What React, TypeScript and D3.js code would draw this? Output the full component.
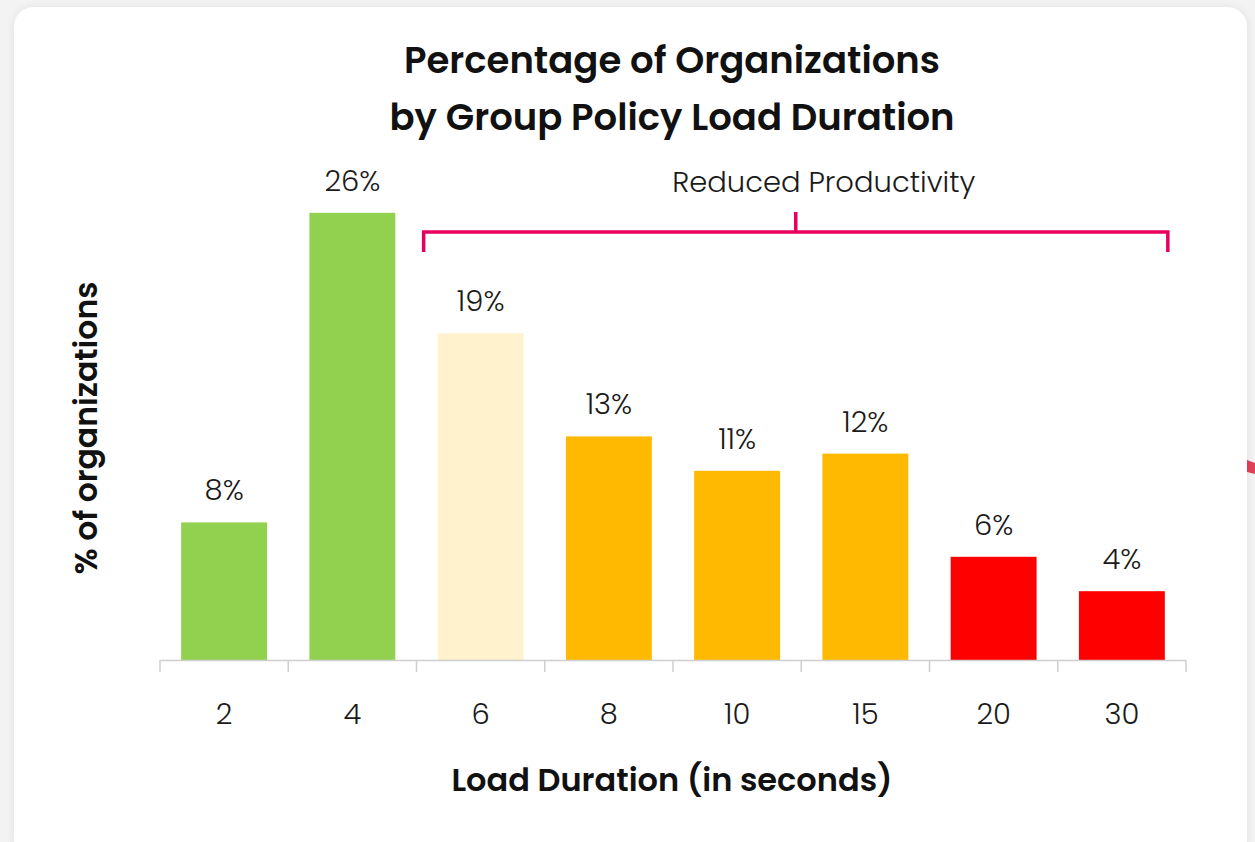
import React, { useEffect, useRef } from "react";
import * as d3 from "d3";

const categories = ["2", "4", "6", "8", "10", "15", "20", "30"];
const values = [8, 26, 19, 13, 11, 12, 6, 4];
const barColors = ["#92D050", "#92D050", "#FFF2CC", "#FFB900", "#FFB900", "#FFB900", "#FF0000", "#FF0000"];
const titleLines = ["Percentage of Organizations", "by Group Policy Load Duration"];
const xTitle = "Load Duration (in seconds)";
const yTitle = "% of organizations";
const bracketLabel = "Reduced Productivity";
const bracketFrom = "6";
const bracketTo = "30";

const W = 1255;
const H = 842;
const FONT = "Poppins, 'Open Sans', Roboto, sans-serif";

export default function App() {
  const ref = useRef<SVGSVGElement | null>(null);

  useEffect(() => {
    const svg = d3.select(ref.current);
    svg.selectAll("*").remove();

    const defs = svg.append("defs");
    const f = defs.append("filter").attr("id", "sh").attr("x", "-5%").attr("y", "-5%").attr("width", "110%").attr("height", "110%");
    f.append("feGaussianBlur").attr("in", "SourceAlpha").attr("stdDeviation", 5);
    f.append("feComponentTransfer").append("feFuncA").attr("type", "linear").attr("slope", 0.08);
    const m = f.append("feMerge");
    m.append("feMergeNode");
    m.append("feMergeNode").attr("in", "SourceGraphic");

    svg.append("rect").attr("width", W).attr("height", H).attr("fill", "#f3f3f3");
    svg.append("polygon").attr("points", "1247,460 1255,463 1255,474 1247,472").attr("fill", "#e0405a");
    svg.append("rect").attr("x", 14).attr("y", 7).attr("width", 1233).attr("height", 853)
      .attr("rx", 20).attr("fill", "#ffffff").attr("filter", "url(#sh)");

    const x = d3.scaleBand<string>().domain(categories).range([160, 1186]).paddingInner(0.33).paddingOuter(0.165);
    const y = d3.scaleLinear().domain([0, 30]).range([660, 144]);
    const bandStep = x.step();

    // title
    svg.append("g").selectAll("text").data(titleLines).join("text")
      .attr("x", 672).attr("y", (_d, i) => 73 + i * 57)
      .attr("text-anchor", "middle").attr("font-family", FONT).attr("font-weight", 600)
      .attr("font-size", 37).attr("fill", "#111").text(d => d);

    // bars
    svg.append("g").selectAll("rect").data(values).join("rect")
      .attr("x", (_d, i) => x(categories[i])!)
      .attr("y", d => y(d))
      .attr("width", x.bandwidth())
      .attr("height", d => y(0) - y(d))
      .attr("fill", (_d, i) => barColors[i]);

    // value labels
    svg.append("g").selectAll("text").data(values).join("text")
      .attr("x", (_d, i) => x(categories[i])! + x.bandwidth() / 2)
      .attr("y", d => y(d) - 22)
      .attr("text-anchor", "middle").attr("font-family", FONT).attr("font-weight", 300)
      .attr("font-size", 29).attr("fill", "#1a1a1a").text(d => `${d}%`);

    // axis
    const axis = d3.axisBottom(x).tickSize(0).tickPadding(0);
    const gA = svg.append("g").attr("transform", `translate(0,${y(0)})`).call(axis);
    gA.select(".domain").remove();
    gA.selectAll("text").remove();
    svg.append("line").attr("x1", 160).attr("x2", 160 + bandStep * categories.length).attr("y1", y(0) + 0.5).attr("y2", y(0) + 0.5)
      .attr("stroke", "#cfcfcf").attr("stroke-width", 1.5);
    const boundaries = d3.range(categories.length + 1).map(i => 160 + i * bandStep);
    svg.append("g").selectAll("line").data(boundaries).join("line")
      .attr("x1", d => d).attr("x2", d => d).attr("y1", y(0)).attr("y2", y(0) + 12)
      .attr("stroke", "#cfcfcf").attr("stroke-width", 1.5);
    svg.append("g").selectAll("text").data(categories).join("text")
      .attr("x", d => x(d)! + x.bandwidth() / 2).attr("y", 724)
      .attr("text-anchor", "middle").attr("font-family", FONT).attr("font-weight", 300)
      .attr("font-size", 29).attr("fill", "#1a1a1a").text(d => d);

    // axis titles
    svg.append("text").attr("x", 672).attr("y", 791).attr("text-anchor", "middle")
      .attr("font-family", FONT).attr("font-weight", 600).attr("font-size", 32).attr("fill", "#111").text(xTitle);
    svg.append("text").attr("transform", "translate(97,428) rotate(-90)").attr("text-anchor", "middle")
      .attr("font-family", FONT).attr("font-weight", 600).attr("font-size", 31.5).attr("fill", "#111").text(yTitle);

    // bracket
    const bx1 = x(bracketFrom)! - 14;
    const bx2 = x(bracketTo)! + x.bandwidth() + 3;
    const bm = (bx1 + bx2) / 2;
    const by = 232;
    svg.append("path")
      .attr("d", `M${bx1},252 V${by} H${bx2} V252 M${bm},${by} V212`)
      .attr("fill", "none").attr("stroke", "#E8005F").attr("stroke-width", 3.5);
    svg.append("text").attr("x", bm + 28).attr("y", 192).attr("text-anchor", "middle")
      .attr("font-family", FONT).attr("font-weight", 300).attr("font-size", 29).attr("fill", "#1a1a1a").text(bracketLabel);
  }, []);

  return (
    <svg ref={ref} width={W} height={H} style={{ position: "absolute", left: 0, top: 0, display: "block" }} />
  );
}
